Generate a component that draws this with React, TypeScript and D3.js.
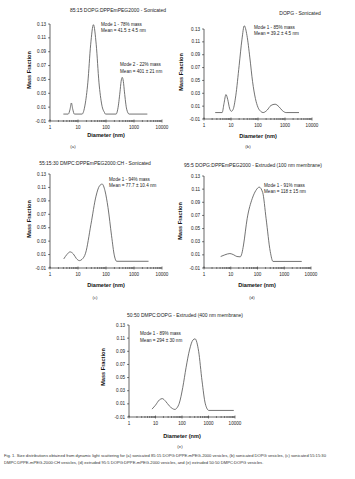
import React from "react";
import * as d3 from "d3";

const W = 355;
const H = 479;

const yTicks = [-0.01, 0.01, 0.03, 0.05, 0.07, 0.09, 0.11, 0.13];
const xTicks = [1, 10, 100, 1000, 10000];
const xTickLabels = ["1", "10", "100", "1000", "10000"];
const yTickLabels = ["-0.01", "0.01", "0.03", "0.05", "0.07", "0.09", "0.11", "0.13"];

const panelTitles = [
  "85:15 DOPG:DPPEmPEG2000 - Sonicated",
  "DOPG - Sonicated",
  "55:15:30 DMPC:DPPEmPEG2000:CH - Sonicated",
  "95:5 DOPG:DPPEmPEG2000 - Extruded (100 nm membrane)",
  "50:50 DMPC:DOPG - Extruded (400 nm membrane)",
];
const panelLetters = ["(a)", "(b)", "(c)", "(d)", "(e)"];

const notesA = [["Mode 1 - 78% mass", "Mean = 41.5 ± 4.5 nm"], ["Mode 2 - 22% mass", "Mean = 401 ± 21 nm"]];
const notesB = [["Mode 1 - 85% mass", "Mean = 39.2 ± 4.5 nm"]];
const notesC = [["Mode 1 - 94% mass", "Mean = 77.7 ± 10.4 nm"]];
const notesD = [["Mode 1 - 91% mass", "Mean = 118 ± 15 nm"]];
const notesE = [["Mode 1 - 89% mass", "Mean = 294 ± 30 nm"]];

// Diameter (nm) and mass fraction for each panel
const diamA = [3, 4.5, 5.2, 5.8, 6.5, 7.4, 14, 17.8, 22.5, 28.3, 35.6, 44.8, 56, 71, 89, 95, 230, 263, 316, 346, 380, 417, 456, 548, 670, 3000];
const massA = [0, 0, 0.007, 0.016, 0.007, 0, 0, 0.013, 0.046, 0.1, 0.129, 0.1, 0.046, 0.013, 0.002, 0, 0, 0.007, 0.032, 0.047, 0.053, 0.047, 0.032, 0.007, 0, 0];

const diamB = [2.6, 4.7, 5.5, 6.5, 7.6, 8.8, 10.3, 12, 15, 20, 25.5, 31, 39, 50, 63, 80, 100, 125, 155, 220, 300, 430, 600, 800, 1100, 3300];
const massB = [0, 0, 0.014, 0.028, 0.02, 0.007, 0.002, 0.005, 0.026, 0.073, 0.114, 0.135, 0.12, 0.085, 0.048, 0.022, 0.008, 0.002, 0, 0.004, 0.011, 0.013, 0.009, 0.003, 0, 0];

const diamC = [3.1, 4, 5.2, 6.8, 8.8, 11.2, 14, 18.6, 29, 44, 58, 73, 92, 118, 158, 200, 240, 3300];
const massC = [0.0035, 0.01, 0.014, 0.011, 0.004, 0.001, 0.003, 0.012, 0.055, 0.097, 0.112, 0.115, 0.105, 0.08, 0.038, 0.008, 0, 0];

const diamD = [4.2, 6, 9.3, 13, 17, 22.6, 26, 30, 41, 64, 87, 116, 156, 210, 300, 380, 4500];
const massD = [0.0075, 0.01, 0.012, 0.01, 0.0075, 0.007, 0.012, 0.025, 0.065, 0.096, 0.108, 0.113, 0.105, 0.065, 0.015, 0, 0];

const diamE = [7.4, 10, 14, 18, 24, 33, 43, 54, 65, 79, 107, 142, 192, 257, 310, 424, 570, 760, 1030, 9000];
const massE = [0.002, 0.008, 0.016, 0.018, 0.014, 0.007, 0.003, 0.0015, 0.004, 0.011, 0.035, 0.065, 0.092, 0.107, 0.109, 0.09, 0.045, 0.01, 0, 0];

const captionLines = [
  "Fig. 1. Size distributions obtained from dynamic light scattering for (a) sonicated 85:15 DOPG:DPPE-mPEG-2000 vesicles, (b) sonicated DOPG vesicles, (c) sonicated 55:15:30",
  "DMPC:DPPE-mPEG-2000:CH vesicles, (d) extruded 95:5 DOPG:DPPE-mPEG-2000 vesicles, and (e) extruded 50:50 DMPC:DOPG vesicles.",
];

type Layout = {
  x0: number; x1: number; yTop: number; yBot: number;
  title: [number, number];
  notes: [number, number][];
  yLab: [number, number];
  xLab: [number, number];
  letter: [number, number];
};

const layouts: Layout[] = [
  { x0: 50, x1: 162, yTop: 24, yBot: 121, title: [118, 10], notes: [[101, 24], [120, 64.5]], yLab: [29, 70], xLab: [106, 135], letter: [73, 146] },
  { x0: 204, x1: 312, yTop: 29, yBot: 119, title: [300, 13], notes: [[254, 27]], yLab: [181, 72], xLab: [258, 136], letter: [248, 146] },
  { x0: 50, x1: 162, yTop: 174, yBot: 268, title: [95, 163.5], notes: [[109, 179]], yLab: [29.5, 219], xLab: [106, 285], letter: [95, 297] },
  { x0: 204, x1: 311, yTop: 176, yBot: 268, title: [253, 165], notes: [[264, 185]], yLab: [180, 221], xLab: [257, 285], letter: [252, 297] },
  { x0: 129, x1: 235, yTop: 325, yBot: 417, title: [185, 315], notes: [[140, 333.5]], yLab: [103.5, 367], xLab: [182, 436], letter: [180, 446] },
];

const series = [
  { diam: diamA, mass: massA, notes: notesA },
  { diam: diamB, mass: massB, notes: notesB },
  { diam: diamC, mass: massC, notes: notesC },
  { diam: diamD, mass: massD, notes: notesD },
  { diam: diamE, mass: massE, notes: notesE },
];

const FONT = "'Liberation Sans', Arial, sans-serif";

function Panel({ idx }: { idx: number }) {
  const L = layouts[idx];
  const s = series[idx];
  const x = d3.scaleLog().domain([1, 10000]).range([L.x0, L.x1]);
  const y = d3.scaleLinear().domain([-0.01, 0.13]).range([L.yBot, L.yTop]);
  const pts: [number, number][] = s.diam.map((d, i) => [d, s.mass[i]]);
  const line = d3
    .line<[number, number]>()
    .x((d) => x(d[0]))
    .y((d) => y(d[1]))
    .curve(d3.curveMonotoneX);
  const minor: number[] = [];
  for (let e = 0; e < 4; e++) for (let k = 2; k < 10; k++) minor.push(k * Math.pow(10, e));
  return (
    <g>
      <text x={L.title[0]} y={L.title[1]} dy="0.35em" textAnchor="middle" fontSize={5} fill="#222">
        {panelTitles[idx]}
      </text>
      <line x1={L.x0} x2={L.x0} y1={y(0.13)} y2={y(-0.01)} stroke="#000" strokeWidth={0.6} />
      {yTicks.map((t, i) => (
        <g key={"yt" + i}>
          <line x1={L.x0 - 2} x2={L.x0} y1={y(t)} y2={y(t)} stroke="#000" strokeWidth={0.5} />
          <text x={L.x0 - 4} y={y(t)} dy="0.35em" textAnchor="end" fontSize={4.6} fill="#222">
            {yTickLabels[i]}
          </text>
        </g>
      ))}
      <line x1={L.x0} x2={L.x1} y1={y(-0.01)} y2={y(-0.01)} stroke="#000" strokeWidth={0.6} />
      {minor.map((m, i) => (
        <line key={"mn" + i} x1={x(m)} x2={x(m)} y1={y(-0.01) - 1} y2={y(-0.01) + 1} stroke="#000" strokeWidth={0.4} />
      ))}
      {xTicks.map((t, i) => (
        <g key={"xt" + i}>
          <line x1={x(t)} x2={x(t)} y1={y(-0.01) - 1.5} y2={y(-0.01) + 1.5} stroke="#000" strokeWidth={0.5} />
          <text x={x(t)} y={y(-0.01) + 6} dy="0.35em" textAnchor="middle" fontSize={4.6} fill="#222">
            {xTickLabels[i]}
          </text>
        </g>
      ))}
      <path d={line(pts) || ""} fill="none" stroke="#5a5a5a" strokeWidth={0.85} />
      {s.notes.map((n, i) => (
        <g key={"n" + i}>
          <text x={L.notes[i][0]} y={L.notes[i][1]} dy="0.35em" fontSize={4.6} fill="#222">{n[0]}</text>
          <text x={L.notes[i][0]} y={L.notes[i][1] + 6.5} dy="0.35em" fontSize={4.6} fill="#222">{n[1]}</text>
        </g>
      ))}
      <text
        transform={`translate(${L.yLab[0]},${L.yLab[1]}) rotate(-90)`}
        dy="0.35em"
        textAnchor="middle"
        fontSize={5.6}
        fontWeight="bold"
        fill="#111"
      >
        Mass Fraction
      </text>
      <text x={L.xLab[0]} y={L.xLab[1]} dy="0.35em" textAnchor="middle" fontSize={5.6} fontWeight="bold" fill="#111">
        Diameter (nm)
      </text>
      <text x={L.letter[0]} y={L.letter[1]} dy="0.35em" textAnchor="middle" fontSize={4.4} fill="#333">
        {panelLetters[idx]}
      </text>
    </g>
  );
}

export default function App() {
  return (
    <svg
      width={W}
      height={H}
      viewBox={`0 0 ${W} ${H}`}
      style={{ position: "absolute", left: 0, top: 0, background: "#fff" }}
      fontFamily={FONT}
    >
      <rect width={W} height={H} fill="#fff" />
      {layouts.map((_, i) => (
        <Panel key={i} idx={i} />
      ))}
      {captionLines.map((c, i) => (
        <text key={"c" + i} x={4} y={455.5 + i * 7.5} dy="0.35em" fontSize={4.15} fill="#333">
          {c}
        </text>
      ))}
    </svg>
  );
}
